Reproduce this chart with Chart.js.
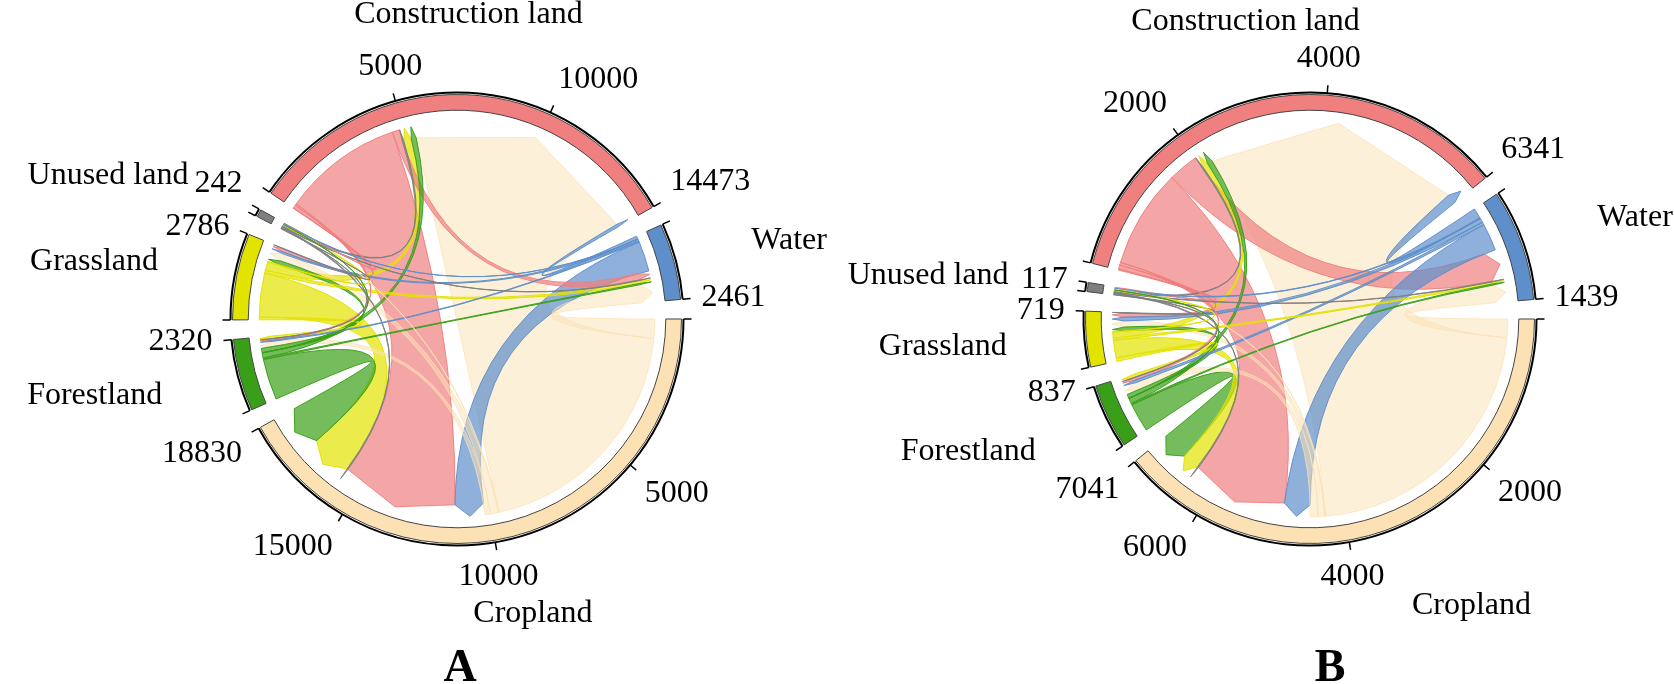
<!DOCTYPE html>
<html>
<head>
<meta charset="utf-8">
<script src="https://cdn.jsdelivr.net/npm/chart.js@4.4.1/dist/chart.umd.min.js"></script>
<style>
html, body { margin: 0; padding: 0; background: #fff; }
#wrap { position: relative; width: 1674px; height: 684px; }
canvas { position: absolute; top: 0; }
</style>
</head>
<body>
<div id="wrap">
  <canvas id="chordA" width="837" height="684" style="left:0"></canvas>
  <canvas id="chordB" width="837" height="684" style="left:837px"></canvas>
</div>
<script>
// Sectors in clockwise order, starting at 3 o'clock
const sectors = ['Cropland', 'Forestland', 'Grassland', 'Unused land', 'Construction land', 'Water'];
const sectorColors = ['#FCE1B4', '#3A9F18', '#E3E300', '#7F7F7F', '#F08080', '#5E8FCA'];
const linkAlpha = [0.5, 0.7, 0.7, 0.7, 0.7, 0.7];

// Panel A: sector totals and transfers (row = from, column = to)
const totalsA = [18830, 2320, 2786, 242, 14473, 2461];
const flowsA = [
  //  Crop  Forest Grass Unused Constr Water
  [    0,   200,  286,   26,  8978,  700],  // Cropland
  [ 1500,     0,  160,   10,   190,   50],  // Forestland
  [ 1600,   100,    0,   30,   300,  110],  // Grassland
  [   40,    10,   20,    0,    55,   21],  // Unused land
  [ 4400,    60,  110,   20,     0,  250],  // Construction land
  [ 1100,    40,   70,   10,   110,    0]   // Water
];
const stepA = 5000;

// Panel B
const totalsB = [7041, 837, 719, 117, 6341, 1439];
const flowsB = [
  //  Crop  Forest Grass Unused Constr Water
  [    0,   117,   93,   12,  3998,  274],  // Cropland
  [  420,     0,   60,    5,    80,   20],  // Forestland
  [  260,    50,    0,    8,    88,   30],  // Grassland
  [   17,     5,   10,    0,    20,   10],  // Unused land
  [ 1450,    40,   60,   15,     0,  440],  // Construction land
  [  400,    40,   60,   15,   150,    0]   // Water
];
const stepB = 2000;

const GAP_DEG = 5;
const FONT = '"Liberation Serif", "Times New Roman", serif';

function rgba(hex, a) {
  const v = parseInt(hex.slice(1), 16);
  return 'rgba(' + (v >> 16) + ',' + ((v >> 8) & 255) + ',' + (v & 255) + ',' + a + ')';
}

function polar(cx, cy, r, a) {
  return [cx + r * Math.cos(a), cy + r * Math.sin(a)];
}

// text placed outside the circle, aligned away from it
function outsideText(ctx, text, cx, cy, r, a, keepMiddle) {
  const c = Math.cos(a), s = Math.sin(a);
  ctx.textAlign = c > 0.3 ? 'left' : (c < -0.3 ? 'right' : 'center');
  if (keepMiddle) ctx.textBaseline = 'middle';
  else ctx.textBaseline = s < -0.45 ? 'bottom' : (s > 0.45 ? 'top' : 'middle');
  const p = polar(cx, cy, r, a);
  ctx.fillText(text, p[0], p[1]);
}

const chordPlugin = {
  id: 'chord',
  afterDatasetsDraw(chart, args, opts) {
    const ctx = chart.ctx;
    const arcs = chart.getDatasetMeta(0).data;
    const n = opts.totals.length;
    const secs = [];
    for (let i = 0; i < n; i++) {
      secs.push(arcs[2 * i].getProps(['x', 'y', 'startAngle', 'endAngle', 'innerRadius', 'outerRadius'], true));
    }
    const cx = secs[0].x, cy = secs[0].y;
    const rOut = secs[0].outerRadius, rIn = secs[0].innerRadius;
    const rLink = rIn - 11, arrow = 12;

    // link slots: outgoing first, then incoming, both counter-clockwise from the sector
    const src = [], dst = [];
    for (let i = 0; i < n; i++) { src.push([]); dst.push([]); }
    for (let i = 0; i < n; i++) {
      const s = secs[i];
      const k = (s.endAngle - s.startAngle) / opts.totals[i];
      let a = s.startAngle;
      for (let d = 1; d < n; d++) {
        const j = (i - d + n) % n;
        const w = opts.flows[i][j] * k;
        src[i][j] = [a, a + w]; a += w;
      }
      for (let d = 1; d < n; d++) {
        const j = (i - d + n) % n;
        const w = opts.flows[j][i] * k;
        dst[j][i] = [a, a + w]; a += w;
      }
    }

    const links = [];
    for (let i = 0; i < n; i++) {
      for (let j = 0; j < n; j++) {
        if (i !== j && opts.flows[i][j] > 0) links.push([i, j, opts.flows[i][j]]);
      }
    }
    links.sort((p, q) => q[2] - p[2]);

    ctx.save();
    links.forEach(([i, j]) => {
      const [a1, a2] = src[i][j];
      const [b1, b2] = dst[i][j];
      ctx.beginPath();
      ctx.arc(cx, cy, rLink, a1, a2);
      let p = polar(cx, cy, rLink - arrow, b1);
      ctx.quadraticCurveTo(cx, cy, p[0], p[1]);
      p = polar(cx, cy, rLink, (b1 + b2) / 2);
      ctx.lineTo(p[0], p[1]);
      p = polar(cx, cy, rLink - arrow, b2);
      ctx.lineTo(p[0], p[1]);
      p = polar(cx, cy, rLink, a1);
      ctx.quadraticCurveTo(cx, cy, p[0], p[1]);
      ctx.closePath();
      ctx.fillStyle = rgba(opts.colors[i], opts.alpha[i]);
      ctx.fill();
      ctx.strokeStyle = rgba(opts.colors[i], Math.min(1, opts.alpha[i] + 0.25));
      ctx.lineWidth = 1;
      ctx.stroke();
    });

    // axis, ticks and numbers
    const rAx = rOut + 2;
    ctx.strokeStyle = '#000';
    ctx.fillStyle = '#000';
    ctx.font = '32px ' + FONT;
    for (let i = 0; i < n; i++) {
      const s = secs[i];
      const total = opts.totals[i];
      const k = (s.endAngle - s.startAngle) / total;
      ctx.lineWidth = 2;
      ctx.beginPath();
      ctx.arc(cx, cy, rAx, s.startAngle, s.endAngle);
      ctx.stroke();
      const ticks = [0];
      // major ticks, leaving out one that would crowd the sector total
      for (let v = opts.step; total - v >= opts.step / 2; v += opts.step) ticks.push(v);
      ticks.push(total);
      ticks.forEach(v => {
        const a = s.startAngle + v * k;
        const p0 = polar(cx, cy, rAx, a), p1 = polar(cx, cy, rAx + 8, a);
        ctx.lineWidth = 1.5;
        ctx.beginPath();
        ctx.moveTo(p0[0], p0[1]);
        ctx.lineTo(p1[0], p1[1]);
        ctx.stroke();
        if (v > 0) outsideText(ctx, String(v), cx, cy, rOut + 21, a, false);
      });
      const mid = (s.startAngle + s.endAngle) / 2;
      outsideText(ctx, opts.names[i], cx, cy, rOut + 80, mid, true);
    }

    ctx.font = 'bold 46px ' + FONT;
    ctx.textAlign = 'center';
    ctx.textBaseline = 'alphabetic';
    ctx.fillText(opts.letter, opts.letterX, 681);
    ctx.restore();
  }
};

function ringData(totals) {
  const sum = totals.reduce((p, q) => p + q, 0);
  const gap = sum * GAP_DEG / (360 - totals.length * GAP_DEG);
  const data = [], bg = [], bw = [];
  totals.forEach((t, i) => {
    data.push(t, gap);
    bg.push(sectorColors[i], 'rgba(0,0,0,0)');
    bw.push(1, 0);
  });
  return { data, bg, bw };
}

function chordConfig(totals, flows, step, letter, letterX, padding) {
  const ring = ringData(totals);
  return {
    type: 'doughnut',
    data: {
      labels: ring.data.map((v, i) => (i % 2 === 0 ? sectors[i / 2] : '')),
      datasets: [{
        data: ring.data,
        backgroundColor: ring.bg,
        borderColor: '#444',
        borderWidth: ring.bw
      }]
    },
    options: {
      responsive: false,
      animation: false,
      events: [],
      rotation: 90,
      cutout: '93%',
      layout: { padding: padding },
      plugins: {
        legend: { display: false },
        tooltip: { enabled: false },
        chord: {
          totals: totals, flows: flows, step: step, names: sectors,
          colors: sectorColors, alpha: linkAlpha,
          letter: letter, letterX: letterX
        }
      }
    },
    plugins: [chordPlugin]
  };
}

new Chart(document.getElementById('chordA'),
  chordConfig(totalsA, flowsA, stepA, 'A', 460, { left: 232, right: 155, top: 94, bottom: 140 }));

new Chart(document.getElementById('chordB'),
  chordConfig(totalsB, flowsB, stepB, 'B', 493, { left: 248, right: 139, top: 94, bottom: 140 }));
</script>
</body>
</html>
